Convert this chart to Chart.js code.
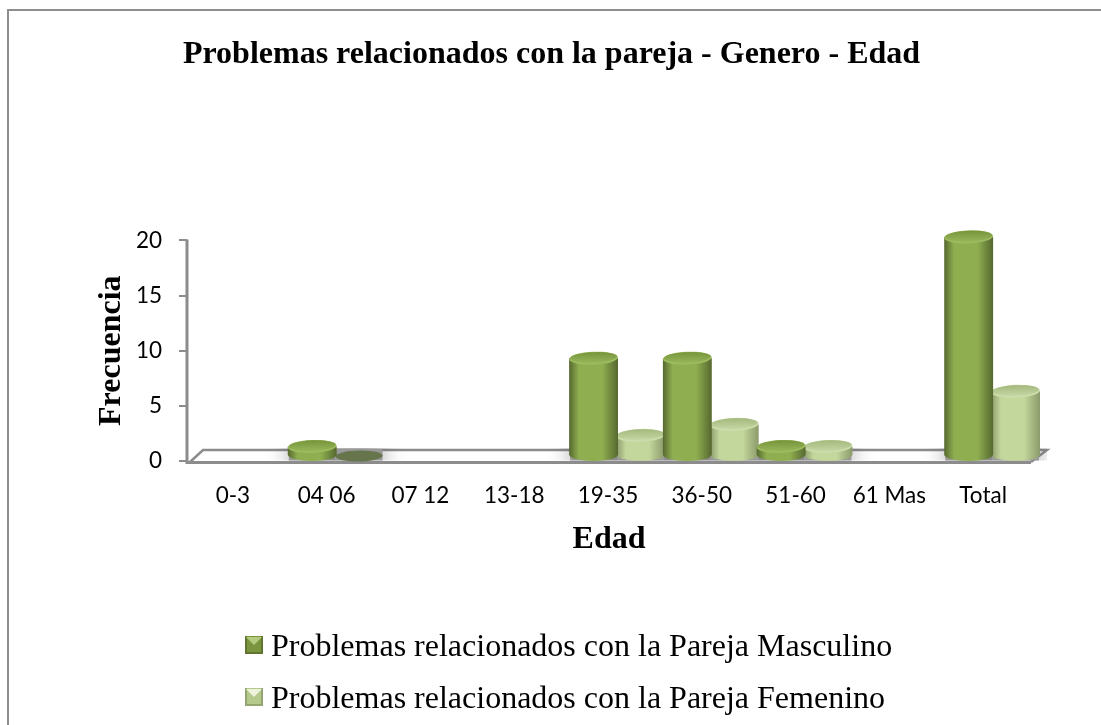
<!DOCTYPE html>
<html><head><meta charset="utf-8">
<style>html,body{margin:0;padding:0;background:#fff}#w{width:1101px;height:725px;position:relative}</style>
<script src="https://cdn.jsdelivr.net/npm/chart.js@4/dist/chart.umd.min.js"></script>
</head><body><div id="w"><canvas id="c" width="1101" height="725"></canvas></div>
<script>
const categories = ['0-3','04 06','07 12','13-18','19-35','36-50','51-60','61 Mas','Total'];
const masculino = [null,1,null,null,9,9,1,null,20];
const femenino  = [null,0,null,null,2,3,1,null,6];
const seriesNames = ['Problemas relacionados con la Pareja Masculino','Problemas relacionados con la Pareja Femenino'];
const yTicks = [0,5,10,15,20];
const serif = '"Liberation Serif","Times New Roman",serif';

const palette = [
  {edge:'#56682f',mid:'#8fae50',top:'#76933a',rim:'#9cbb5e',zero:'#66754c',sw:['#b5cb7f','#7a953e','#5f7530']},
  {edge:'#8a9a6a',mid:'#c3d69b',top:'#a3b77c',rim:'#cbdcaa',zero:'#66754c',sw:['#eef3dc','#b5c98c','#93a671']}
];
function swatch(p){
  const s=document.createElement('canvas');s.width=18;s.height=24;
  const g=s.getContext('2d');
  g.fillStyle=p.sw[1];g.fillRect(0,0,18,18);
  g.fillStyle=p.sw[2];g.fillRect(0,0,2,18);g.fillRect(16,0,2,18);g.fillRect(0,16,18,2);
  g.fillStyle=p.sw[0];g.beginPath();g.moveTo(1,1);g.lineTo(17,1);g.lineTo(9,9);g.closePath();g.fill();
  return s;
}
const DX=8, TOP=3.5, BASE=6.5, RY=6.5, GROW=1;

const floorAndBars={
  id:'cyl',
  beforeDatasetsDraw(chart){
    const {ctx,scales:{x,y}}=chart, y0=y.getPixelForValue(0);
    const l=x.left,r=x.right;
    ctx.save();
    ctx.strokeStyle='#8c8c8c';ctx.lineWidth=2.5;ctx.lineJoin='miter';
    ctx.beginPath();ctx.moveTo(l+3,y0+1);ctx.lineTo(l+16,y0-11);ctx.lineTo(r+16,y0-11);ctx.lineTo(r,y0+1);ctx.stroke();
    ctx.lineWidth=3;
    ctx.beginPath();ctx.moveTo(l,y.top-1);ctx.lineTo(l,y0+1.5);ctx.lineTo(r,y0+1.5);ctx.stroke();
    ctx.beginPath();ctx.rect(l+4,y0-13,r-l+12,12.5);ctx.clip();
    chart.data.datasets.forEach((d,i)=>{
      chart.getDatasetMeta(i).data.forEach((el,k)=>{
        if(d.data[k]===null)return;
        ctx.save();ctx.shadowColor='rgba(80,80,80,1)';ctx.shadowBlur=22;ctx.fillStyle='#999';
        ctx.fillRect(el.x+DX-el.width/2,y0-12,el.width,12);
        ctx.restore();
      });
    });
    ctx.restore();
  },
  beforeDatasetDraw(chart,args){
    const {ctx,scales:{y}}=chart, i=args.index, p=palette[i], y0=y.getPixelForValue(0);
    const d=chart.data.datasets[i];
    args.meta.data.forEach((el,k)=>{
      const v=d.data[k]; if(v===null)return;
      const cx=el.x+DX, rx=el.width/2+GROW, by=y0-BASE, ty=y.getPixelForValue(v)-TOP;
      ctx.save();
      if(v===0){
        ctx.fillStyle=p.zero;ctx.beginPath();ctx.ellipse(cx,y0-5,rx-1,RY-1,-0.02,0,7);ctx.fill();
        ctx.restore();return;
      }
      const g=ctx.createLinearGradient(cx-rx,0,cx+rx,0);
      g.addColorStop(0,p.edge);g.addColorStop(.2,p.mid);g.addColorStop(.68,p.mid);g.addColorStop(1,p.edge);
      ctx.fillStyle=g;
      ctx.beginPath();ctx.ellipse(cx,by,rx,RY,0,0,Math.PI);ctx.lineTo(cx-rx,ty);ctx.lineTo(cx+rx,ty);ctx.closePath();ctx.fill();
      ctx.fillStyle=p.rim;ctx.beginPath();ctx.ellipse(cx,ty,rx,RY,-0.04,0,7);ctx.fill();
      const t=ctx.createLinearGradient(0,ty-RY,0,ty+RY);
      t.addColorStop(0,p.top);t.addColorStop(1,p.rim);
      ctx.fillStyle=t;ctx.beginPath();ctx.ellipse(cx,ty-.8,rx-1,RY-1.2,-0.04,0,7);ctx.fill();
      ctx.restore();
    });
    return false;
  },
  afterDraw(chart){
    const {ctx}=chart;ctx.save();ctx.strokeStyle='#8e8e8e';ctx.lineWidth=2;
    ctx.beginPath();ctx.moveTo(8,725);ctx.lineTo(8,10);ctx.lineTo(1101,10);ctx.stroke();ctx.restore();
  },
  afterLayout(chart){
    const lg=chart.legend; if(lg){lg.left=233;lg.top+=1;lg.bottom+=1;}
    const tb=chart.titleBlock; if(tb){tb.left+=36;tb.right+=36;}
  }
};

new Chart(document.getElementById('c'),{
  type:'bar',
  data:{labels:categories,datasets:[
    {label:seriesNames[0],data:masculino,backgroundColor:palette[0].mid},
    {label:seriesNames[1],data:femenino,backgroundColor:palette[1].mid}
  ]},
  options:{
    responsive:false,animation:false,
    layout:{padding:{left:0,right:70,top:36,bottom:0}},
    datasets:{bar:{categoryPercentage:1,barPercentage:1}},
    scales:{
      x:{grid:{display:false},border:{display:false},
         afterFit(a){a.height=150;},
         ticks:{color:'#000',font:{family:'Lato',size:22.5},maxRotation:0,autoSkip:false,labelOffset:-1,padding:13},
         title:{display:true,text:'Edad',color:'#000',font:{family:serif,size:32,weight:'bold'},padding:{top:8,bottom:52}}},
      y:{min:0,max:20,afterBuildTicks(a){a.ticks=yTicks.map(v=>({value:v}));},
         afterFit(a){a.width=187;},
         grid:{display:true,drawOnChartArea:false,drawTicks:true,tickLength:8,color:'#8c8c8c',lineWidth:2},
         border:{display:false},
         ticks:{color:'#000',font:{family:'Lato',size:22.5},padding:17},
         title:{display:true,text:'Frecuencia',color:'#000',font:{family:serif,size:32,weight:'bold'},padding:{top:93,bottom:0}}}
    },
    plugins:{
      title:{display:true,text:'Problemas relacionados con la pareja - Genero - Edad',color:'#000',
        font:{family:serif,size:32,weight:'bold'},padding:{top:0,bottom:166}},
      tooltip:{enabled:false},
      legend:{position:'bottom',align:'start',
        labels:{color:'#000',font:{family:serif,size:32},usePointStyle:true,pointStyleWidth:2,boxWidth:2,boxHeight:16,padding:20,
          generateLabels(chart){return chart.data.datasets.map((d,i)=>({text:d.label,fillStyle:palette[i].mid,strokeStyle:palette[i].mid,lineWidth:0,datasetIndex:i,pointStyle:swatch(palette[i])}));}}}
    }
  },
  plugins:[floorAndBars]
});
</script></body></html>
